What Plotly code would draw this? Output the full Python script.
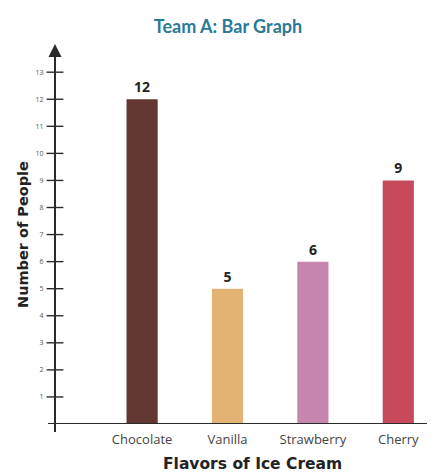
import plotly.graph_objects as go

flavors = ["Chocolate", "Vanilla", "Strawberry", "Cherry"]
people = [12, 5, 6, 9]
bar_colors = ["#643832", "#e2b373", "#c585ad", "#c6495c"]
y_ticks = list(range(1, 14))

OFF = 8  # page body margin in the browser
W, H = 435 - OFF, 474 - OFF
ml, mr, mt, mb = 55 - OFF, 0, 50 - OFF, 50
x_range = [-1.02, 3.43]
y_range = [0, 13.82]
axis_color = "#2b2b2b"
pw = W - ml - mr
ph = H - mt - mb
bottom_px = 424  # reference page pixel of y = 0

def px_x(p):  # reference page x pixel -> paper x
    return (p - 55) / pw

def px_y(p):  # reference page y pixel -> paper y
    return (bottom_px - p) / ph

fig = go.Figure()
fig.add_trace(go.Bar(
    x=list(range(len(flavors))), y=people,
    marker=dict(color=bar_colors, line=dict(width=0)),
    width=0.365,
    text=[str(v) for v in people], textposition="outside",
    textfont=dict(family="Open Sans, sans-serif", size=14, color="#222222", weight="bold"),
    cliponaxis=False, showlegend=False, hoverinfo="skip",
))
# cross tick marks on the y axis
fig.add_trace(go.Scatter(
    x=[x_range[0]] * len(y_ticks), y=y_ticks, mode="markers",
    marker=dict(symbol="line-ew", size=12, line=dict(width=1.4, color=axis_color)),
    cliponaxis=False, showlegend=False, hoverinfo="skip",
))

fig.update_layout(
    width=W, height=H,
    margin=dict(l=ml, r=mr, t=mt, b=mb),
    plot_bgcolor="white", paper_bgcolor="white",
    title=dict(text="<b>Team A: Bar Graph</b>", x=(228 - OFF) / W, y=1 - (27 - OFF) / H,
               xref="container", yref="container", xanchor="center", yanchor="middle",
               font=dict(family="Lato, Open Sans, sans-serif", size=18, color="#2b7a96")),
    xaxis=dict(range=x_range, tickmode="array", tickvals=list(range(len(flavors))),
               ticktext=flavors, showgrid=False, zeroline=False, showline=False,
               ticks="outside", ticklen=3, tickcolor="rgba(0,0,0,0)",
               tickfont=dict(family="Open Sans, sans-serif", size=13, color="#444444")),
    yaxis=dict(range=y_range, tickmode="array", tickvals=y_ticks, showgrid=False,
               zeroline=False, showline=False, ticks="outside", ticklen=9,
               tickcolor="rgba(0,0,0,0)",
               tickfont=dict(family="Open Sans, sans-serif", size=7, color="#555555")),
    shapes=[
        dict(type="line", xref="paper", yref="paper", x0=0, x1=0,
             y0=-8 / ph, y1=1.0 + 2 / ph, line=dict(color=axis_color, width=2)),
        dict(type="line", xref="paper", yref="y", x0=-7 / pw, x1=1, y0=0, y1=0,
             line=dict(color=axis_color, width=2)),
    ],
    annotations=[
        dict(x=0, y=1 + 6 / ph, xref="paper", yref="paper", ax=0, ay=14, text="",
             showarrow=True, arrowhead=2, arrowsize=1.3, arrowwidth=2, arrowcolor=axis_color),
        dict(x=px_x(253), y=px_y(464), xref="paper", yref="paper", showarrow=False,
             text="<b>Flavors of Ice Cream</b>", xanchor="center", yanchor="middle",
             font=dict(family="DejaVu Sans, sans-serif", size=15.5, color="#222222")),
        dict(x=px_x(23), y=px_y(235), xref="paper", yref="paper", showarrow=False,
             text="<b>Number of People</b>", textangle=-90, xanchor="center", yanchor="middle",
             font=dict(family="DejaVu Sans, sans-serif", size=14.5, color="#222222")),
    ],
)

fig.write_html("out.html")
